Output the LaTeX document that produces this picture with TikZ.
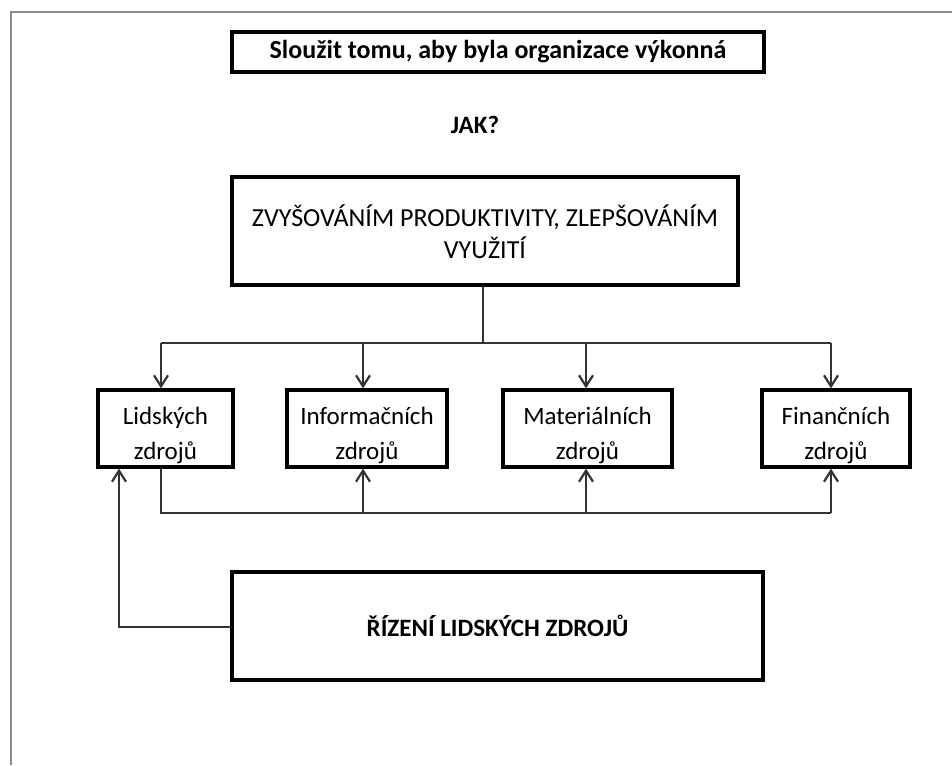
\documentclass[tikz,border=0pt]{standalone}
\usepackage{fontspec}
\setmainfont{Carlito}
\usetikzlibrary{arrows.meta,calc}
\begin{document}
\begin{tikzpicture}[x=1pt,y=-1pt,
  box/.style={draw=black,line width=3.3pt,inner sep=0pt},
  txt/.style={inner sep=0pt,align=center,font=\fontsize{25}{35}\selectfont},
  bigtxt/.style={inner sep=0pt,align=center,font=\fontsize{26}{32}\selectfont},
  conn/.style={draw=black!80,line width=1.5pt},
  arr/.style={conn,-{Straight Barb[length=11pt,width=14pt,line width=2.2pt]}},
  frame/.style={draw=black!45,line width=1.8pt}]
\useasboundingbox (0,0) rectangle (952,765);
\fill[white] (0,0) rectangle (952,765);
% outer frame
\coordinate (fa) at (11,765);
\coordinate (fb) at (11,12);
\coordinate (fc) at (952,12);
\draw[frame] (fa) -- (fb) -- (fc);
% top goal
\node[box,minimum width=532pt,minimum height=40pt] (goal) at (498,52) {};
\node[bigtxt,font=\fontsize{26}{32}\selectfont\bfseries] (goalt) at (goal) {Sloužit tomu, aby byla organizace výkonná};
\node[inner sep=0pt,font=\fontsize{25}{32}\selectfont\bfseries] (jak) at (475,125) {JAK?};
% how
\node[box,minimum width=506pt,minimum height=108pt] (how) at (485,231) {};
\node[bigtxt] (howt) at ($(how)+(0,1)$) {ZVYŠOVÁNÍM PRODUKTIVITY, ZLEPŠOVÁNÍM\\VYUŽITÍ};
% resources
\node[box,minimum width=135pt,minimum height=77pt] (L) at (165.5,428.5) {};
\node[box,minimum width=160pt,minimum height=77pt] (I) at (367,428.5) {};
\node[box,minimum width=169pt,minimum height=77pt] (M) at (587.5,428.5) {};
\node[box,minimum width=148pt,minimum height=77pt] (F) at (836,428.5) {};
\node[txt] (Lt) at ($(L)+(0,7)$) {Lidských\\zdrojů};
\node[txt] (It) at ($(I)+(0,7)$) {Informačních\\zdrojů};
\node[txt] (Mt) at ($(M)+(0,7)$) {Materiálních\\zdrojů};
\node[txt] (Ft) at ($(F)+(0,7)$) {Finančních\\zdrojů};
% HR management
\node[box,minimum width=531pt,minimum height=108pt] (R) at (497.5,626) {};
\node[txt,font=\fontsize{25}{32}\selectfont\bfseries] (Rt) at (R) {ŘÍZENÍ LIDSKÝCH ZDROJŮ};
% distribution bus
\coordinate (hb) at (483,343);
\coordinate (t1) at (161,343);
\coordinate (t2) at (363,343);
\coordinate (t3) at (586,343);
\coordinate (t4) at (831,343);
\draw[conn] (how.south -| hb) -- (hb);
\draw[conn] (t1) -- (t4);
\draw[arr] (t1) -- (t1 |- L.north);
\draw[arr] (t2) -- (t2 |- I.north);
\draw[arr] (t3) -- (t3 |- M.north);
\draw[arr] (t4) -- (t4 |- F.north);
% lower bus
\coordinate (b1) at (161,513);
\coordinate (b2) at (363,513);
\coordinate (b3) at (586,513);
\coordinate (b4) at (831,513);
\draw[conn] (b1 |- L.south) -- (b1) -- (b4);
\draw[arr] (b2) -- (b2 |- I.south);
\draw[arr] (b3) -- (b3 |- M.south);
\draw[arr] (b4) -- (b4 |- F.south);
% feedback from R
\coordinate (rl) at (119,627);
\draw[arr] (R.west |- rl) -- (rl) -- (rl |- L.south);
\end{tikzpicture}
\end{document}
